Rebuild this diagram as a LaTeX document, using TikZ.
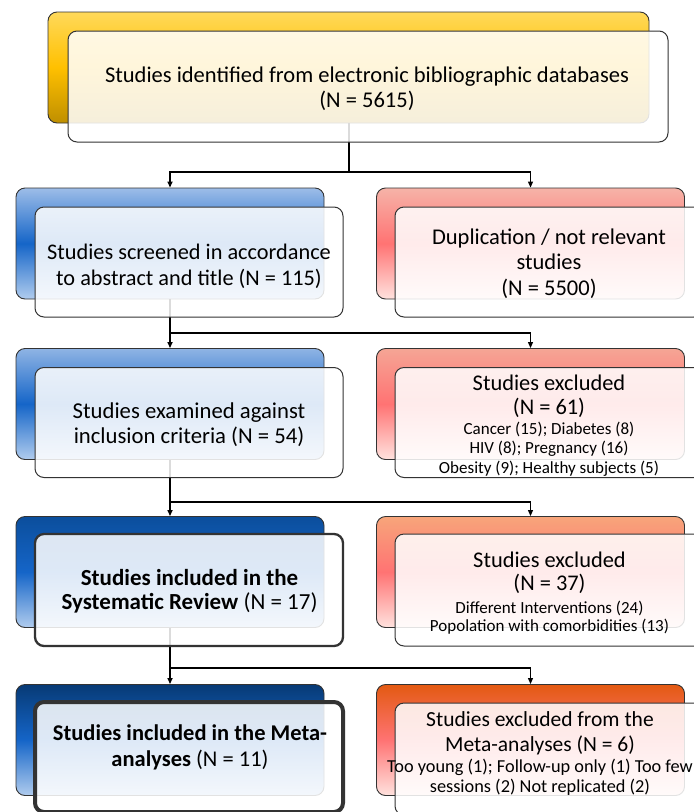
\documentclass[tikz,border=0pt]{standalone}
\usepackage{fontspec}
\setmainfont{Carlito}
\usetikzlibrary{arrows.meta}

\definecolor{ylwTop}{HTML}{FFD95A}
\definecolor{ylwMid}{HTML}{FFC000}
\definecolor{ylwBot}{HTML}{BF8F00}
\definecolor{bluA}{HTML}{9DBDE8}
\definecolor{bluB}{HTML}{8FB4E4}
\definecolor{bluC}{HTML}{0B4E9C}
\definecolor{bluD}{HTML}{073A75}
\definecolor{bluMid}{HTML}{1565C8}
\definecolor{bluBot}{HTML}{B0CCEE}
\definecolor{redA}{HTML}{F6B3A8}
\definecolor{redB}{HTML}{F5A595}
\definecolor{redC}{HTML}{F7A57A}
\definecolor{redD}{HTML}{E35A12}
\definecolor{redMid}{HTML}{FF7373}
\definecolor{redBot}{HTML}{FFE2DE}

\newcommand{\hdr}{\fontsize{22.4}{25}\selectfont}

\begin{document}
\begin{tikzpicture}[x=1pt,y=-1pt,
    back/.style={draw=black!80,line width=0.9pt,rounded corners=9pt,
      minimum width=308pt,minimum height=111pt,inner sep=0pt},
    front/.style={draw=black!80,line width=1pt,rounded corners=9pt,
      fill=white,fill opacity=0.86,
      minimum width=308pt,minimum height=110pt,inner sep=0pt},
    txt/.style={align=center,inner sep=0pt},
    trunk/.style={line width=2pt},
    branch/.style={line width=1.1pt},
    tip/.style={-{Triangle[length=6pt,width=5pt]}}]
    \useasboundingbox (0,0) rectangle (694,812);
    \clip (0,0) rectangle (694,812);

    % back boxes
    \node[back,minimum width=601pt,top color=ylwTop,bottom color=ylwBot,middle color=ylwMid] (idBack) at (348.5,67.5) {};
    \node[back,top color=bluA,bottom color=bluBot,middle color=bluMid] (scrBack) at (170,243.5) {};
    \node[back,top color=redA,bottom color=redBot,middle color=redMid] (dupBack) at (530.5,243.5) {};
    \node[back,top color=bluB,bottom color=bluBot,middle color=bluMid] (exaBack) at (170,404) {};
    \node[back,top color=redB,bottom color=redBot,middle color=redMid] (excaBack) at (530.5,404) {};
    \node[back,top color=bluC,bottom color=bluBot,middle color=bluMid] (revBack) at (170,572) {};
    \node[back,top color=redC,bottom color=redBot,middle color=redMid] (excbBack) at (530.5,572) {};
    \node[back,top color=bluD,bottom color=bluBot,middle color=bluMid] (metaBack) at (170,740) {};
    \node[back,top color=redD,bottom color=redBot,middle color=redMid] (excmBack) at (530.5,740) {};

    % connectors
    \coordinate (j1) at (348.5,172);
    \coordinate (j2) at (170,333);
    \coordinate (j3) at (170,502);
    \coordinate (j4) at (170,668);
    \draw[trunk] (idBack.south) -- (j1);
    \draw[trunk,tip] (j1) -| (scrBack.north);
    \draw[branch,tip] (j1) -| (dupBack.north);
    \draw[trunk,tip] (scrBack.south) -- (exaBack.north);
    \draw[branch,tip] (j2) -| (excaBack.north);
    \draw[trunk,tip] (exaBack.south) -- (revBack.north);
    \draw[branch,tip] (j3) -| (excbBack.north);
    \draw[trunk,tip] (revBack.south) -- (metaBack.north);
    \draw[branch,tip] (j4) -| (excmBack.north);

    % front boxes
    \node[front,minimum width=600pt,minimum height=111pt] (id) at (368,86.5) {};
    \node[front] (scr) at (189,262) {};
    \node[front] (dup) at (549,262) {};
    \node[front] (exa) at (189,422.5) {};
    \node[front] (exca) at (549,422.5) {};
    \node[front,line width=2.3pt,minimum height=112pt] (rev) at (189,590) {};
    \node[front,minimum height=112pt] (excb) at (549,590) {};
    \node[front,line width=4pt] (meta) at (189,757) {};
    \node[front,minimum height=112pt] (excm) at (549,759) {};

    % texts
    \node[txt,font=\fontsize{22.5}{25}\selectfont] (idTxt) at (367,88.5)
      {Studies identified from electronic bibliographic databases\\(N = 5615)};
    \node[txt,font=\fontsize{22.3}{26}\selectfont] (scrTxt) at (189,266.5)
      {Studies screened in accordance\\to abstract and title (N = 115)};
    \node[txt,font=\fontsize{22.5}{25.5}\selectfont] (dupTxt) at (549,263.5)
      {Duplication / not relevant\\studies\\(N = 5500)};
    \node[txt,font=\fontsize{22.7}{25}\selectfont] (exaTxt) at (189,424.5)
      {Studies examined against\\inclusion criteria (N = 54)};
    \node[txt,font=\fontsize{17}{19.5}\selectfont] (excaTxt) at (549,425.5)
      {{\hdr Studies excluded}\\[4.5pt]{\hdr (N = 61)}\\[0pt]Cancer (15); Diabetes (8)\\HIV (8); Pregnancy (16)\\Obesity (9); Healthy subjects (5)};
    \node[txt,font=\fontsize{23}{24.5}\selectfont] (revTxt) at (189.5,591)
      {\textbf{Studies included in the}\\\textbf{Systematic Review} (N = 17)};
    \node[txt,font=\fontsize{17}{18}\selectfont] (excbTxt) at (549.5,593)
      {{\hdr Studies excluded}\\[5pt]{\hdr (N = 37)}\\[4.5pt]Different Interventions (24)\\Popolation with comorbidities (13)};
    \node[txt,font=\fontsize{22.5}{26}\selectfont] (metaTxt) at (190,747)
      {\textbf{Studies included in the Meta-}\\\textbf{analyses} (N = 11)};
    \node[txt,font=\fontsize{18.3}{20}\selectfont] (excmTxt) at (540,753)
      {{\fontsize{21.5}{25}\selectfont Studies excluded from the}\\[5pt]{\fontsize{21.5}{25}\selectfont Meta-analyses (N = 6)}\\[1pt]Too young (1); Follow-up only (1) Too few\\sessions (2) Not replicated (2)};
\end{tikzpicture}
\end{document}
